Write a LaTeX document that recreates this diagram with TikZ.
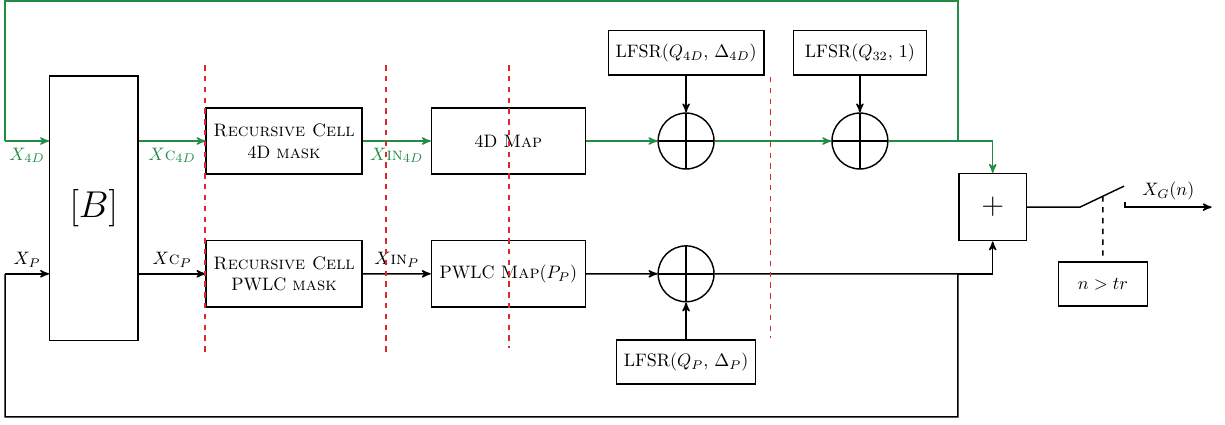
\documentclass[tikz,border=0pt]{standalone}
\usetikzlibrary{arrows,calc,positioning}
\definecolor{dg}{RGB}{34,139,69}
\definecolor{dr}{RGB}{220,40,40}
\tikzset{
    blk/.style =    {rectangle,
                    draw=black,
                    text=black,
                    thick,
                    align=center,
                    inner sep=4pt,
                    minimum width=3cm,
                    minimum height=1.29cm},
    bank/.style =   {rectangle,
                    draw=black,
                    text=black,
                    thick,
                    minimum width=1.72cm,
                    minimum height=5.15cm},
    lfsr/.style =   {rectangle,
                    draw=black,
                    text=black,
                    thick,
                    inner sep=4pt,
                    minimum width=2.6cm,
                    minimum height=0.86cm},
    xor/.style =    {circle,
                    draw=black,
                    thick,
                    minimum size=1.09cm,
                    path picture={\draw[thick]
                        (path picture bounding box.north) -- (path picture bounding box.south)
                        (path picture bounding box.west) -- (path picture bounding box.east);}},
    adder/.style =  {rectangle,
                    draw=black,
                    text=black,
                    thick,
                    minimum size=1.31cm},
    cut/.style =    {dr,
                    thick,
                    dashed},
    >=stealth',
    node distance=2cm}
\begin{document}
\begin{tikzpicture}[node distance=2.59cm]
    \useasboundingbox (0,0) rectangle (23.89,-8.27);

                \node[bank]             (B)     at (1.83,-4.06)                     {\huge $[B]$};
                \node[blk]              (rcA)   at (5.54,-2.75)                     {\textsc{Recursive Cell}\\4D \textsc{mask}};
                \node[blk]              (rcP)   [below of=rcA]                      {\textsc{Recursive Cell}\\PWLC \textsc{mask}};
                \node[blk,anchor=west]  (mapA)  at (8.40,-2.75)                     {4D \textsc{Map}};
                \node[blk,anchor=west]  (mapP)  at (8.40,-5.34)                     {PWLC \textsc{Map}$(P_P)$};
                \node[xor]              (xorA)  at (13.38,-2.75)                    {};
                \node[xor]              (xorP)  [below of=xorA]                     {};
                \node[xor]              (xorQ)  [right of=xorA,node distance=3.39cm] {};
                \node[lfsr]             (lfA)   [above of=xorA,node distance=1.72cm] {LFSR($Q_{4D}$, $\Delta_{4D}$)};
                \node[lfsr]             (lfQ)   [above of=xorQ,node distance=1.72cm] {LFSR($Q_{32}$, 1)};
                \node[lfsr]             (lfP)   [below of=xorP,node distance=1.72cm] {LFSR($Q_P$, $\Delta_P$)};
                \node[adder]            (sum)   at (19.36,-4.04)                    {\LARGE $+$};
                \node[lfsr,minimum width=1.74cm] (thr) at (21.51,-5.54)            {$n > tr$};

                % feedback corners and switch
                \coordinate (jA)  at (18.68,-2.75);
                \coordinate (jP)  at (18.68,-5.34);
                \coordinate (tR)  at (18.68,-0.02);
                \coordinate (tL)  at (0.10,-0.02);
                \coordinate (inA) at (0.10,-2.75);
                \coordinate (bR)  at (18.68,-8.13);
                \coordinate (bL)  at (0.10,-8.13);
                \coordinate (inP) at (0.10,-5.34);
                \coordinate (swA) at (21.06,-4.04);
                \coordinate (swB) at (21.92,-3.63);
                \coordinate (swM) at ($(swA)!0.52!(swB)$);
                \coordinate (oA)  at (21.94,-3.94);
                \coordinate (oC)  at (21.94,-4.04);
                \coordinate (oB)  at (23.63,-4.04);

                \path [thick,->,dg]     (inA) edge []           node [below] {$X_{4D}$} (B.west |- inA)
                                        (B.east |- rcA) edge [] node [below] {$X\textsc{c}_{4D}$} (rcA)
                                        (rcA) edge []           node [below] {$X\textsc{in}_{4D}$} (mapA)
                                        (mapA) edge []          node [] {} (xorA)
                                        (xorA) edge []          node [] {} (xorQ);
                \draw [thick,dg]        (xorQ) -- (jA) -- (tR) -- (tL) -- (inA);
                \draw [thick,dg,->]     (jA) -| (sum);

                \path [thick,->]        (inP) edge []           node [above] {$X_P$} (B.west |- inP)
                                        (B.east |- rcP) edge [] node [above] {$X\textsc{c}_P$} (rcP)
                                        (rcP) edge []           node [above] {$X\textsc{in}_P$} (mapP)
                                        (mapP) edge []          node [] {} (xorP)
                                        (lfA) edge []           node [] {} (xorA)
                                        (lfQ) edge []           node [] {} (xorQ)
                                        (lfP) edge []           node [] {} (xorP);
                \draw [thick]           (xorP) -- (jP) -- (bR) -- (bL) -- (inP);
                \draw [thick,->]        (jP) -| (sum);

                \draw [thick]           (sum) -- (swA) -- (swB);
                \draw [thick,->]        (oA) -- (oC) -- node [above] {$X_G(n)$} (oB);
                \draw [thick,dashed]    (swM) -- (thr);

                % pipeline cuts
                \draw [cut] (4.00,-1.27) -- (4.00,-6.86)
                            (7.53,-1.27) -- (7.53,-6.86)
                            (9.93,-1.27) -- (9.93,-6.79)
                            (15.03,-1.50) -- (15.03,-6.59);
\end{tikzpicture}
\end{document}
